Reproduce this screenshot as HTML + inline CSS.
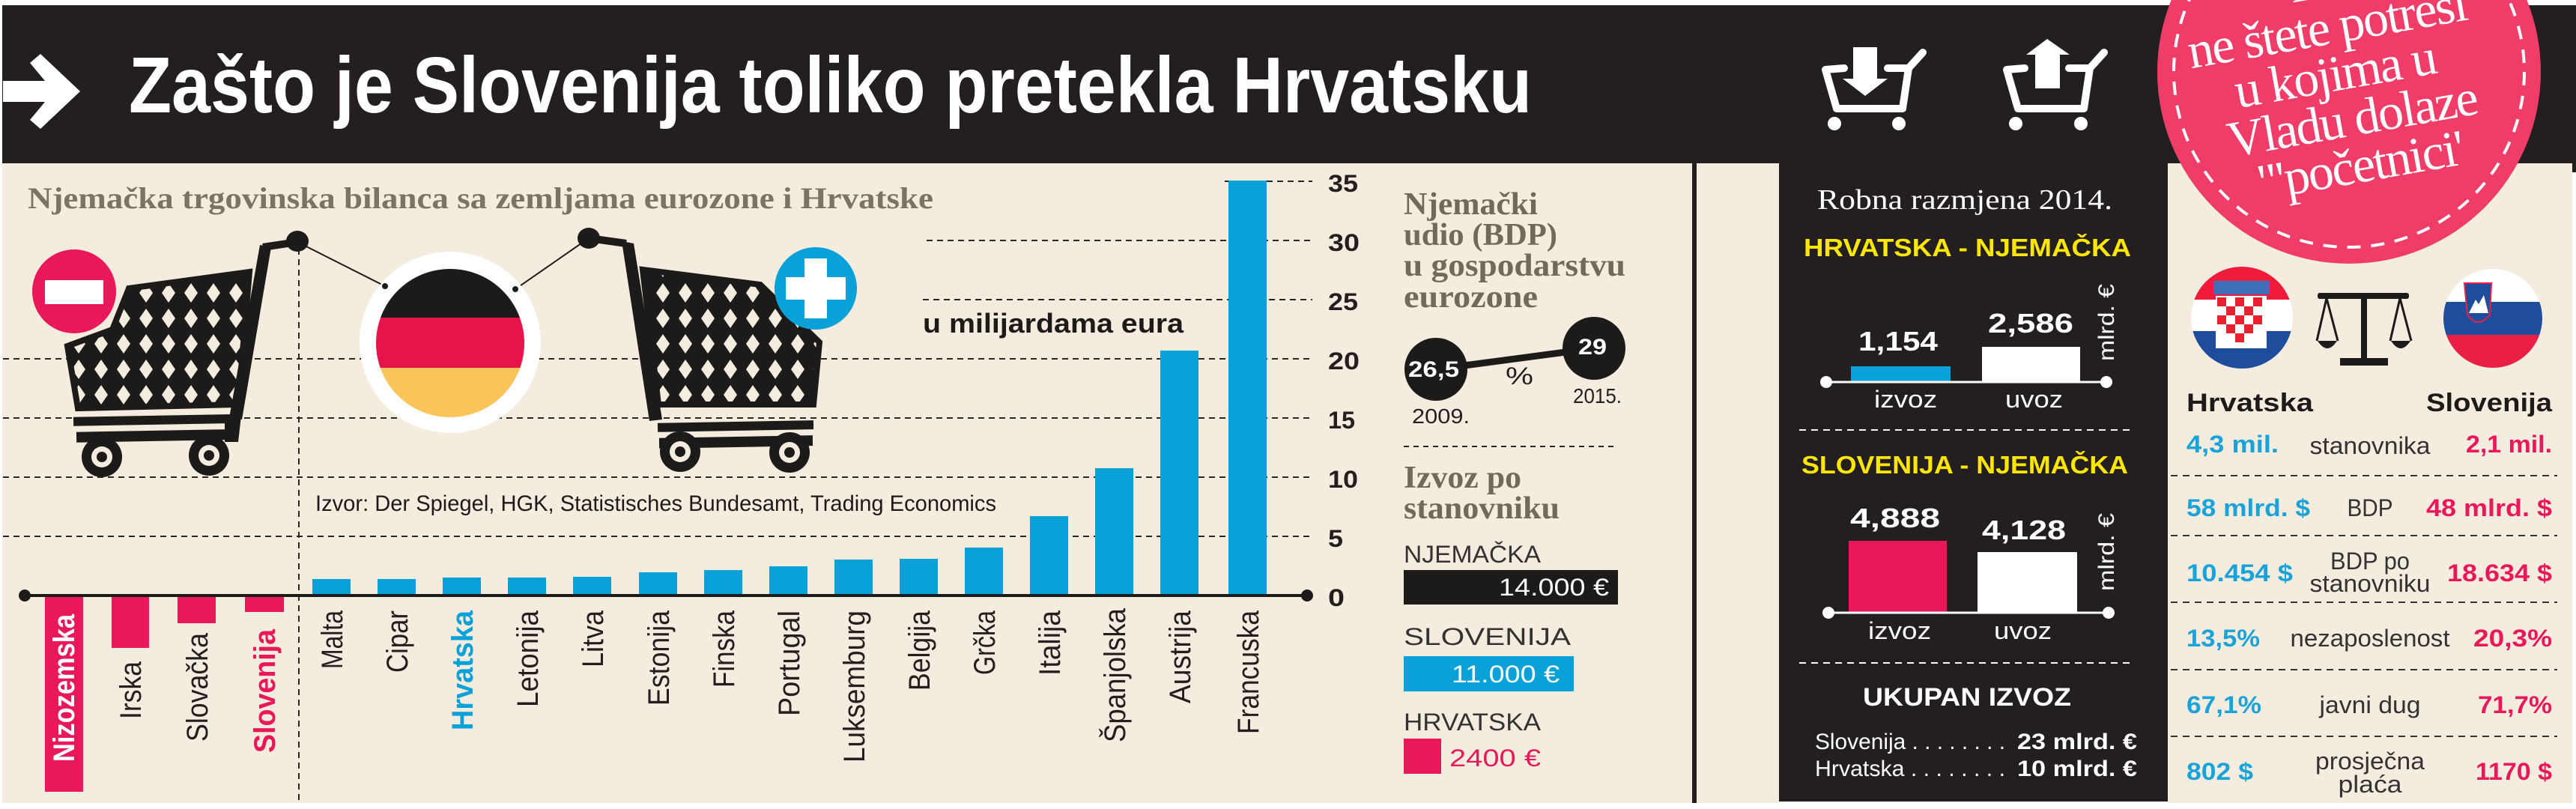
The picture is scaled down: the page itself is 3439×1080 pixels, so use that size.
<!DOCTYPE html>
<html><head><meta charset="utf-8"><style>
html,body{margin:0;padding:0;background:#fff;}
svg{display:block;}
text{font-family:"Liberation Sans",sans-serif;}
.serif{font-family:"Liberation Serif",serif;}
</style></head><body>
<svg width="3439" height="1080" viewBox="0 0 3439 1080" xmlns="http://www.w3.org/2000/svg">
<defs>
<pattern id="mesh" width="30" height="34" patternUnits="userSpaceOnUse">
<rect width="30" height="34" fill="#1d1a1a"/>
<polygon points="15,4 24,17 15,30 6,17" fill="#f4ecdf"/>
</pattern>
<clipPath id="deC"><circle cx="601" cy="458" r="99"/></clipPath>
<clipPath id="hrC"><circle cx="2993" cy="424" r="68"/></clipPath>
<clipPath id="slC"><circle cx="3328" cy="425" r="66"/></clipPath>
</defs>
<rect width="3439" height="1080" fill="#fff"/>
<rect x="3" y="7" width="2256" height="1065" fill="#f4ecdf"/>
<rect x="3" y="7" width="2256" height="211" fill="#231f20"/>
<polygon points="4,108 60,108 40,84 54,72 107,122 54,172 40,160 60,136 4,136" fill="#fff"/>
<text x="172" y="150" font-size="106" font-weight="bold" fill="#fff" textLength="1873" lengthAdjust="spacingAndGlyphs">Zašto je Slovenija toliko pretekla Hrvatsku</text>
<text class="serif" x="37" y="278" font-size="40" font-weight="bold" fill="#7a7463" textLength="1209" lengthAdjust="spacingAndGlyphs">Njemačka trgovinska bilanca sa zemljama eurozone i Hrvatske</text>

<g stroke="#2a2626" stroke-width="2" stroke-dasharray="8 6">
<line x1="1635" y1="242" x2="1752" y2="242"/>
<line x1="1237" y1="321" x2="1752" y2="321"/>
<line x1="1232" y1="400" x2="1752" y2="400"/>
<line x1="4" y1="479" x2="1752" y2="479"/>
<line x1="4" y1="558" x2="1752" y2="558"/>
<line x1="4" y1="637" x2="1752" y2="637"/>
<line x1="4" y1="716" x2="1752" y2="716"/>
<line x1="399" y1="318" x2="399" y2="1070"/>
</g>
<g stroke="#2a2626" stroke-width="2" stroke-dasharray="7 6">
<line x1="1874" y1="596" x2="2157" y2="596"/>
</g>

<g fill="#1d1a1a">
<polygon points="172,385 333,363 318,540 104,545 90,462 150,440" fill="url(#mesh)" stroke="#1d1a1a" stroke-width="8"/>
<polygon points="347,327 362,330 323,560 306,558"/>
<rect x="98" y="555" width="215" height="12" transform="rotate(-1 200 560)"/>
<polygon points="300,555 322,555 318,590 300,590"/>
<rect x="102" y="575" width="210" height="14" transform="rotate(-1 200 580)"/>
<line x1="351" y1="330" x2="397" y2="323" stroke="#1d1a1a" stroke-width="10"/>
<ellipse cx="397" cy="322" rx="15" ry="14"/>
<circle cx="136" cy="610" r="27"/><circle cx="136" cy="610" r="14" fill="#f4ecdf"/><circle cx="136" cy="610" r="7"/>
<circle cx="279" cy="608" r="27"/><circle cx="279" cy="608" r="14" fill="#f4ecdf"/><circle cx="279" cy="608" r="7"/>

<polygon points="858,360 1015,380 1094,457 1086,540 879,540" fill="url(#mesh)" stroke="#1d1a1a" stroke-width="8"/>
<polygon points="830,322 846,325 884,560 867,562"/>
<rect x="878" y="563" width="208" height="12" transform="rotate(-1 980 568)"/>
<rect x="880" y="583" width="205" height="14" transform="rotate(-1 980 590)"/>
<line x1="786" y1="318" x2="836" y2="325" stroke="#1d1a1a" stroke-width="10"/>
<ellipse cx="786" cy="318" rx="15" ry="14"/>
<circle cx="908" cy="603" r="27"/><circle cx="908" cy="603" r="14" fill="#f4ecdf"/><circle cx="908" cy="603" r="7"/>
<circle cx="1054" cy="604" r="27"/><circle cx="1054" cy="604" r="14" fill="#f4ecdf"/><circle cx="1054" cy="604" r="7"/>
</g>
<line x1="397" y1="323" x2="514" y2="382" stroke="#1d1a1a" stroke-width="2"/>
<line x1="786" y1="318" x2="688" y2="386" stroke="#1d1a1a" stroke-width="2"/>
<circle cx="601" cy="457" r="121" fill="#fff"/>
<g clip-path="url(#deC)">
<rect x="500" y="355" width="205" height="69" fill="#1d1a1a"/>
<rect x="500" y="424" width="205" height="67" fill="#e8134a"/>
<rect x="500" y="491" width="205" height="70" fill="#fdc45a"/>
</g>
<circle cx="514" cy="382" r="4" fill="#1d1a1a"/><circle cx="688" cy="386" r="4" fill="#1d1a1a"/>
<circle cx="99" cy="389" r="56" fill="#e8185a"/>
<rect x="60" y="374" width="78" height="32" fill="#fff"/>
<circle cx="1089" cy="385" r="55" fill="#0aa0d8"/>
<rect x="1074" y="345" width="30" height="80" fill="#fff"/>
<rect x="1049" y="370" width="80" height="30" fill="#fff"/>

<text x="1232" y="444" font-size="36" font-weight="bold" fill="#1d1a1a" textLength="348" lengthAdjust="spacingAndGlyphs">u milijardama eura</text>
<text x="421" y="682" font-size="30" fill="#1d1a1a" textLength="909" lengthAdjust="spacingAndGlyphs">Izvor:  Der Spiegel, HGK, Statistisches Bundesamt, Trading Economics</text>

<g fill="#e8185a">
<rect x="60" y="795" width="51" height="262"/>
<rect x="149" y="795" width="50" height="70"/>
<rect x="237" y="795" width="51" height="37"/>
<rect x="327" y="795" width="52" height="22"/>
</g>
<g fill="#0aa0d8">
<rect x="417" y="773" width="51" height="22"/>
<rect x="504" y="773" width="51" height="22"/>
<rect x="591" y="771" width="51" height="24"/>
<rect x="678" y="771" width="51" height="24"/>
<rect x="765" y="770" width="51" height="25"/>
<rect x="853" y="764" width="51" height="31"/>
<rect x="940" y="761" width="51" height="34"/>
<rect x="1027" y="756" width="51" height="39"/>
<rect x="1114" y="747" width="51" height="48"/>
<rect x="1201" y="746" width="51" height="49"/>
<rect x="1288" y="731" width="51" height="64"/>
<rect x="1375" y="689" width="51" height="106"/>
<rect x="1462" y="625" width="51" height="170"/>
<rect x="1549" y="468" width="51" height="327"/>
<rect x="1640" y="241" width="51" height="554"/>
</g>
<line x1="32" y1="795" x2="1745" y2="795" stroke="#1d1a1a" stroke-width="4"/>
<circle cx="33" cy="795" r="8" fill="#1d1a1a"/><circle cx="1745" cy="795" r="8" fill="#1d1a1a"/>
<g font-size="32" font-weight="bold" fill="#231f20">
<text x="1773" y="256" textLength="40" lengthAdjust="spacingAndGlyphs">35</text>
<text x="1773" y="335" textLength="42" lengthAdjust="spacingAndGlyphs">30</text>
<text x="1773" y="414" textLength="40" lengthAdjust="spacingAndGlyphs">25</text>
<text x="1773" y="493" textLength="42" lengthAdjust="spacingAndGlyphs">20</text>
<text x="1773" y="572" textLength="36" lengthAdjust="spacingAndGlyphs">15</text>
<text x="1773" y="651" textLength="40" lengthAdjust="spacingAndGlyphs">10</text>
<text x="1773" y="730" textLength="20" lengthAdjust="spacingAndGlyphs">5</text>
<text x="1773" y="809" textLength="22" lengthAdjust="spacingAndGlyphs">0</text>
</g>

<g font-size="40" fill="#231f20" text-anchor="end">
<text transform="translate(99,820) rotate(-90)" fill="#fff" font-weight="bold" textLength="197" lengthAdjust="spacingAndGlyphs">Nizozemska</text>
<text transform="translate(188,883) rotate(-90)" textLength="77" lengthAdjust="spacingAndGlyphs">Irska</text>
<text transform="translate(277,845) rotate(-90)" textLength="145" lengthAdjust="spacingAndGlyphs">Slovačka</text>
<text transform="translate(367,840) rotate(-90)" fill="#e8185a" font-weight="bold" textLength="165" lengthAdjust="spacingAndGlyphs">Slovenija</text>
<text transform="translate(457,815) rotate(-90)" textLength="78" lengthAdjust="spacingAndGlyphs">Malta</text>
<text transform="translate(544,815) rotate(-90)" textLength="83" lengthAdjust="spacingAndGlyphs">Cipar</text>
<text transform="translate(631,815) rotate(-90)" fill="#0aa0d8" font-weight="bold" textLength="160" lengthAdjust="spacingAndGlyphs">Hrvatska</text>
<text transform="translate(718,815) rotate(-90)" textLength="129" lengthAdjust="spacingAndGlyphs">Letonija</text>
<text transform="translate(805,815) rotate(-90)" textLength="76" lengthAdjust="spacingAndGlyphs">Litva</text>
<text transform="translate(893,815) rotate(-90)" textLength="127" lengthAdjust="spacingAndGlyphs">Estonija</text>
<text transform="translate(980,815) rotate(-90)" textLength="103" lengthAdjust="spacingAndGlyphs">Finska</text>
<text transform="translate(1067,815) rotate(-90)" textLength="141" lengthAdjust="spacingAndGlyphs">Portugal</text>
<text transform="translate(1154,815) rotate(-90)" textLength="203" lengthAdjust="spacingAndGlyphs">Luksemburg</text>
<text transform="translate(1241,815) rotate(-90)" textLength="107" lengthAdjust="spacingAndGlyphs">Belgija</text>
<text transform="translate(1328,815) rotate(-90)" textLength="86" lengthAdjust="spacingAndGlyphs">Grčka</text>
<text transform="translate(1415,815) rotate(-90)" textLength="87" lengthAdjust="spacingAndGlyphs">Italija</text>
<text transform="translate(1502,812) rotate(-90)" textLength="179" lengthAdjust="spacingAndGlyphs">Španjolska</text>
<text transform="translate(1589,815) rotate(-90)" textLength="124" lengthAdjust="spacingAndGlyphs">Austrija</text>
<text transform="translate(1680,815) rotate(-90)" textLength="165" lengthAdjust="spacingAndGlyphs">Francuska</text>
</g>

<g class="serif" font-size="42" font-weight="bold" fill="#6e6a5c">
<text class="serif" x="1874" y="286" textLength="179" lengthAdjust="spacingAndGlyphs">Njemački</text>
<text class="serif" x="1874" y="327" textLength="205" lengthAdjust="spacingAndGlyphs">udio (BDP)</text>
<text class="serif" x="1874" y="368" textLength="296" lengthAdjust="spacingAndGlyphs">u gospodarstvu</text>
<text class="serif" x="1874" y="410" textLength="179" lengthAdjust="spacingAndGlyphs">eurozone</text>
<text class="serif" x="1874" y="651" textLength="157" lengthAdjust="spacingAndGlyphs">Izvoz po</text>
<text class="serif" x="1874" y="692" textLength="208" lengthAdjust="spacingAndGlyphs">stanovniku</text>
</g>
<line x1="1917" y1="493" x2="2128" y2="465" stroke="#1d1a1a" stroke-width="9"/>
<circle cx="1917" cy="493" r="42" fill="#1d1a1a"/>
<circle cx="2128" cy="465" r="42" fill="#1d1a1a"/>
<text x="1880" y="503" font-size="30" font-weight="bold" fill="#fff" textLength="68" lengthAdjust="spacingAndGlyphs">26,5</text>
<text x="2107" y="473" font-size="30" font-weight="bold" fill="#fff" textLength="38" lengthAdjust="spacingAndGlyphs">29</text>
<text x="2010" y="513" font-size="32" fill="#231f20" textLength="37" lengthAdjust="spacingAndGlyphs">%</text>
<text x="2100" y="538" font-size="28" fill="#231f20" textLength="65" lengthAdjust="spacingAndGlyphs">2015.</text>
<text x="1885" y="565" font-size="28" fill="#231f20" textLength="77" lengthAdjust="spacingAndGlyphs">2009.</text>

<text x="1874" y="751" font-size="32" fill="#333" textLength="183" lengthAdjust="spacingAndGlyphs">NJEMAČKA</text>
<rect x="1874" y="761" width="286" height="46" fill="#1d1a1a"/>
<text x="2148" y="795" font-size="32" fill="#fff" text-anchor="end" textLength="147" lengthAdjust="spacingAndGlyphs">14.000 €</text>
<text x="1874" y="861" font-size="32" fill="#333" textLength="223" lengthAdjust="spacingAndGlyphs">SLOVENIJA</text>
<rect x="1874" y="876" width="227" height="47" fill="#0aa0d8"/>
<text x="2082" y="911" font-size="32" fill="#fff" text-anchor="end" textLength="144" lengthAdjust="spacingAndGlyphs">11.000 €</text>
<text x="1874" y="975" font-size="32" fill="#333" textLength="183" lengthAdjust="spacingAndGlyphs">HRVATSKA</text>
<rect x="1874" y="986" width="50" height="47" fill="#e8185a"/>
<text x="1935" y="1023" font-size="32" fill="#e8185a" textLength="122" lengthAdjust="spacingAndGlyphs">2400 €</text>

<rect x="2259" y="7" width="6" height="1065" fill="#231f20"/>
<rect x="2265" y="7" width="1174" height="211" fill="#231f20"/>
<rect x="2265" y="218" width="110" height="854" fill="#f4ecdf"/>
<rect x="2375" y="218" width="519" height="852" fill="#231f20"/>
<rect x="2894" y="218" width="540" height="854" fill="#f4ecdf"/>
<rect x="3434" y="218" width="5" height="12" fill="#231f20"/>

<g fill="none" stroke="#fff" stroke-width="10" stroke-linejoin="round" stroke-linecap="round">
<polyline points="2462,91 2437,93 2452,145 2540,145 2548,91 2520,91"/>
<line x1="2548" y1="91" x2="2567" y2="70"/>
<polyline points="2703,91 2679,93 2694,145 2782,145 2790,91 2762,91"/>
<line x1="2790" y1="91" x2="2809" y2="70"/>
</g>
<g fill="#fff">
<circle cx="2449" cy="165" r="9"/><circle cx="2535" cy="165" r="9"/>
<rect x="2474" y="63" width="32" height="43"/><polygon points="2460,105 2520,105 2490,128"/>
<circle cx="2691" cy="165" r="9"/><circle cx="2778" cy="165" r="9"/>
<rect x="2717" y="72" width="33" height="46"/><polygon points="2705,73 2763,73 2733,52"/>
</g>

<text class="serif" x="2426" y="279" font-size="38" fill="#fff" textLength="394" lengthAdjust="spacingAndGlyphs">Robna razmjena 2014.</text>
<text x="2408" y="342" font-size="33" font-weight="bold" fill="#ffe600" textLength="437" lengthAdjust="spacingAndGlyphs">HRVATSKA - NJEMAČKA</text>
<rect x="2471" y="489" width="133" height="21" fill="#0aa0d8"/>
<rect x="2646" y="463" width="131" height="47" fill="#fff"/>
<line x1="2438" y1="510" x2="2812" y2="510" stroke="#fff" stroke-width="3"/>
<circle cx="2438" cy="510" r="8" fill="#fff"/><circle cx="2812" cy="510" r="8" fill="#fff"/>
<text x="2481" y="468" font-size="36" font-weight="bold" fill="#fff" textLength="106" lengthAdjust="spacingAndGlyphs">1,154</text>
<text x="2654" y="444" font-size="36" font-weight="bold" fill="#fff" textLength="114" lengthAdjust="spacingAndGlyphs">2,586</text>
<text x="2502" y="544" font-size="32" fill="#fff" textLength="84" lengthAdjust="spacingAndGlyphs">izvoz</text>
<text x="2677" y="544" font-size="32" fill="#fff" textLength="77" lengthAdjust="spacingAndGlyphs">uvoz</text>
<text transform="translate(2822,482) rotate(-90)" font-size="30" fill="#fff" textLength="103" lengthAdjust="spacingAndGlyphs">mlrd. €</text>
<line x1="2402" y1="574" x2="2845" y2="574" stroke="#fff" stroke-width="2" stroke-dasharray="9 7"/>
<text x="2405" y="632" font-size="33" font-weight="bold" fill="#ffe600" textLength="436" lengthAdjust="spacingAndGlyphs">SLOVENIJA - NJEMAČKA</text>
<rect x="2468" y="722" width="131" height="96" fill="#e8185a"/>
<rect x="2640" y="737" width="133" height="81" fill="#fff"/>
<line x1="2441" y1="818" x2="2815" y2="818" stroke="#fff" stroke-width="3"/>
<circle cx="2441" cy="818" r="8" fill="#fff"/><circle cx="2815" cy="818" r="8" fill="#fff"/>
<text x="2470" y="704" font-size="36" font-weight="bold" fill="#fff" textLength="120" lengthAdjust="spacingAndGlyphs">4,888</text>
<text x="2646" y="720" font-size="36" font-weight="bold" fill="#fff" textLength="112" lengthAdjust="spacingAndGlyphs">4,128</text>
<text x="2494" y="853" font-size="32" fill="#fff" textLength="84" lengthAdjust="spacingAndGlyphs">izvoz</text>
<text x="2662" y="853" font-size="32" fill="#fff" textLength="77" lengthAdjust="spacingAndGlyphs">uvoz</text>
<text transform="translate(2822,789) rotate(-90)" font-size="30" fill="#fff" textLength="104" lengthAdjust="spacingAndGlyphs">mlrd. €</text>
<line x1="2402" y1="885" x2="2845" y2="885" stroke="#fff" stroke-width="2" stroke-dasharray="9 7"/>
<text x="2487" y="942" font-size="34" font-weight="bold" fill="#fff" textLength="278" lengthAdjust="spacingAndGlyphs">UKUPAN IZVOZ</text>
<text x="2423" y="1000" font-size="30" fill="#fff" textLength="254" lengthAdjust="spacingAndGlyphs">Slovenija . . . . . . . .</text>
<text x="2853" y="1000" font-size="30" font-weight="bold" fill="#fff" text-anchor="end" textLength="160" lengthAdjust="spacingAndGlyphs">23 mlrd. €</text>
<text x="2423" y="1036" font-size="30" fill="#fff" textLength="254" lengthAdjust="spacingAndGlyphs">Hrvatska . . . . . . . .</text>
<text x="2853" y="1036" font-size="30" font-weight="bold" fill="#fff" text-anchor="end" textLength="160" lengthAdjust="spacingAndGlyphs">10 mlrd. €</text>

<circle cx="3136" cy="96" r="256" fill="#ef3c68"/>
<circle cx="3136" cy="96" r="234" fill="none" stroke="#fff" stroke-width="4" stroke-dasharray="18 14"/>
<g transform="rotate(-10 3135 160)" class="serif" font-size="68" fill="#fff" text-anchor="middle">
<text class="serif" x="3128" y="-7">Da</text>
<text class="serif" x="3128" y="56" letter-spacing="-2">ne štete potresi</text>
<text class="serif" x="3128" y="119" letter-spacing="-2">u kojima u</text>
<text class="serif" x="3140" y="182" letter-spacing="-2">Vladu dolaze</text>
<text class="serif" x="3140" y="245" letter-spacing="-2">"'početnici'</text>
</g>

<g clip-path="url(#hrC)">
<rect x="2920" y="350" width="150" height="50" fill="#ee1c3a"/>
<rect x="2920" y="400" width="150" height="42" fill="#fff"/>
<rect x="2920" y="442" width="150" height="60" fill="#1f4d9e"/>
</g>
<rect x="2958" y="395" width="68" height="70" fill="#fff"/>
<g fill="#e8202f">
<rect x="2960" y="397" width="12" height="12"/><rect x="2984" y="397" width="12" height="12"/><rect x="3008" y="397" width="12" height="12"/>
<rect x="2972" y="409" width="12" height="12"/><rect x="2996" y="409" width="12" height="12"/>
<rect x="2960" y="421" width="12" height="12"/><rect x="2984" y="421" width="12" height="12"/><rect x="3008" y="421" width="12" height="12"/>
<rect x="2972" y="433" width="12" height="12"/><rect x="2996" y="433" width="12" height="12"/>
<rect x="2984" y="445" width="12" height="12"/>
</g>
<rect x="2955" y="375" width="75" height="18" fill="#3b6fb6"/>
<g clip-path="url(#slC)">
<rect x="3255" y="355" width="150" height="48" fill="#fff"/>
<rect x="3255" y="403" width="150" height="44" fill="#1f4d9e"/>
<rect x="3255" y="447" width="150" height="50" fill="#ea1f45"/>
</g>
<path d="M3290 378 L3326 378 L3324 420 Q3308 440 3294 420 Z" fill="#1f4d9e" stroke="#ea1f45" stroke-width="2"/>
<polygon points="3296,418 3305,400 3309,406 3316,394 3322,418" fill="#fff"/>
<g fill="#1d1a1a">
<rect x="3094" y="391" width="122" height="8" rx="3"/>
<rect x="3152" y="391" width="8" height="90"/>
<rect x="3124" y="478" width="64" height="10"/>
<path d="M3094 455 Q3107 475 3120 455 Z"/><path d="M3192 455 Q3205 475 3218 455 Z"/>
</g>
<g stroke="#1d1a1a" stroke-width="3" fill="none">
<polyline points="3093,455 3106,398 3121,455"/>
<polyline points="3191,455 3204,398 3219,455"/>
</g>

<text x="2919" y="549" font-size="34" font-weight="bold" fill="#1d1a1a" textLength="169" lengthAdjust="spacingAndGlyphs">Hrvatska</text>
<text x="3407" y="549" font-size="34" font-weight="bold" fill="#1d1a1a" text-anchor="end" textLength="168" lengthAdjust="spacingAndGlyphs">Slovenija</text>
<g stroke="#333" stroke-width="2" stroke-dasharray="9 7">
<line x1="2898" y1="635" x2="3414" y2="635"/>
<line x1="2898" y1="715" x2="3414" y2="715"/>
<line x1="2898" y1="804" x2="3414" y2="804"/>
<line x1="2898" y1="894" x2="3414" y2="894"/>
<line x1="2898" y1="983" x2="3414" y2="983"/>
</g>
<g font-size="32" font-weight="bold" fill="#1aa3d9">
<text x="2919" y="604" textLength="123" lengthAdjust="spacingAndGlyphs">4,3 mil.</text>
<text x="2919" y="689" textLength="165" lengthAdjust="spacingAndGlyphs">58 mlrd. $</text>
<text x="2919" y="776" textLength="142" lengthAdjust="spacingAndGlyphs">10.454 $</text>
<text x="2919" y="863" textLength="98" lengthAdjust="spacingAndGlyphs">13,5%</text>
<text x="2919" y="952" textLength="100" lengthAdjust="spacingAndGlyphs">67,1%</text>
<text x="2919" y="1041" textLength="89" lengthAdjust="spacingAndGlyphs">802 $</text>
</g>
<g font-size="32" font-weight="bold" fill="#e8185a" text-anchor="end">
<text x="3407" y="604" textLength="115" lengthAdjust="spacingAndGlyphs">2,1 mil.</text>
<text x="3407" y="689" textLength="168" lengthAdjust="spacingAndGlyphs">48 mlrd. $</text>
<text x="3407" y="776" textLength="140" lengthAdjust="spacingAndGlyphs">18.634 $</text>
<text x="3407" y="863" textLength="105" lengthAdjust="spacingAndGlyphs">20,3%</text>
<text x="3407" y="952" textLength="99" lengthAdjust="spacingAndGlyphs">71,7%</text>
<text x="3407" y="1041" textLength="102" lengthAdjust="spacingAndGlyphs">1170 $</text>
</g>
<g font-size="32" fill="#333" text-anchor="middle">
<text x="3164" y="606" textLength="161" lengthAdjust="spacingAndGlyphs">stanovnika</text>
<text x="3164" y="689" textLength="61" lengthAdjust="spacingAndGlyphs">BDP</text>
<text x="3164" y="760" textLength="106" lengthAdjust="spacingAndGlyphs">BDP po</text>
<text x="3164" y="790" textLength="161" lengthAdjust="spacingAndGlyphs">stanovniku</text>
<text x="3164" y="863" textLength="213" lengthAdjust="spacingAndGlyphs">nezaposlenost</text>
<text x="3164" y="952" textLength="135" lengthAdjust="spacingAndGlyphs">javni dug</text>
<text x="3164" y="1027" textLength="146" lengthAdjust="spacingAndGlyphs">prosječna</text>
<text x="3164" y="1058" textLength="85" lengthAdjust="spacingAndGlyphs">plaća</text>
</g>
</svg>
</body></html>
